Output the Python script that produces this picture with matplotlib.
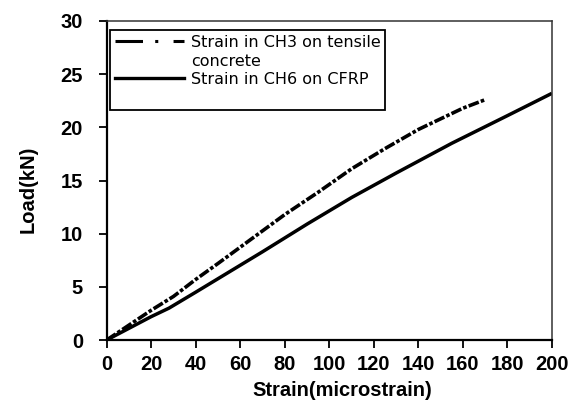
import matplotlib
matplotlib.use("Agg")
import matplotlib.pyplot as plt
from matplotlib.lines import Line2D

# strain (microstrain) vs load (kN)
ch3_strain = [0, 10, 20, 30, 40, 50, 65, 80, 95, 110, 125, 140, 150, 160, 170]
ch3_load = [0, 1.4, 2.8, 4.1, 5.7, 7.2, 9.5, 11.8, 13.9, 16.1, 18.0, 19.8, 20.8, 21.8, 22.6]

ch6_strain = [0, 10, 20, 28, 40, 55, 70, 90, 110, 130, 155, 180, 200]
ch6_load = [0, 1.1, 2.2, 3.0, 4.5, 6.4, 8.3, 10.9, 13.4, 15.7, 18.5, 21.1, 23.2]

x_ticks = list(range(0, 201, 20))
y_ticks = list(range(0, 31, 5))

label_ch3_a = "Strain in CH3 on tensile"
label_ch3_b = "concrete"
label_ch6 = "Strain in CH6 on CFRP"

plt.rcParams["font.family"] = "Liberation Sans"

fig = plt.figure(figsize=(5.79, 4.15), dpi=100)
ax = fig.add_axes([0.1843, 0.1807, 0.769, 0.7687])

ax.plot(ch3_strain, ch3_load, color="black", lw=2.6,
        linestyle=(0, (3, 0.6, 1, 0.6)))
ax.plot(ch6_strain, ch6_load, color="black", lw=2.5, solid_capstyle="butt")

ax.set_xlim(0, 200)
ax.set_ylim(0, 30)
ax.set_xticks(x_ticks)
ax.set_yticks(y_ticks)
ax.tick_params(direction="out", length=6, width=1.3, labelsize=14.5, colors="black")
ax.tick_params(axis="y", pad=11)
ax.tick_params(axis="x", pad=5)
for lab in ax.get_xticklabels() + ax.get_yticklabels():
    lab.set_fontweight("bold")

for side in ("left", "bottom"):
    ax.spines[side].set_linewidth(1.6)
for side in ("top", "right"):
    ax.spines[side].set_linewidth(1.1)
    ax.spines[side].set_color("#333333")

ax.set_xlabel("Strain(microstrain)", fontsize=14.5, fontweight="bold")
ax.set_ylabel("Load(kN)", fontsize=14.5, fontweight="bold")
ax.xaxis.set_label_coords(0.529, -0.13)
ax.yaxis.set_label_coords(-0.155, 0.473)

# legend: handle sits on the first text row, empty row at the bottom like the original
h_ch3 = Line2D([], [], color="black", lw=2.2, linestyle=(0, (9, 4, 1, 5)))
h_blank = Line2D([], [], linestyle="none")
h_ch6 = Line2D([], [], color="black", lw=2.4)
leg = ax.legend([h_ch3, h_blank, h_ch6, h_blank],
                [label_ch3_a, label_ch3_b, label_ch6, " "],
                loc="upper left", bbox_to_anchor=(0.008, 0.971),
                prop={"family": "DejaVu Sans", "size": 11.5},
                handlelength=4.3, handletextpad=0.45, labelspacing=0.22,
                borderpad=0.3, borderaxespad=0, fancybox=False,
                framealpha=1, edgecolor="black")
leg.get_frame().set_linewidth(1.3)

fig.savefig("out.png", dpi=100)
